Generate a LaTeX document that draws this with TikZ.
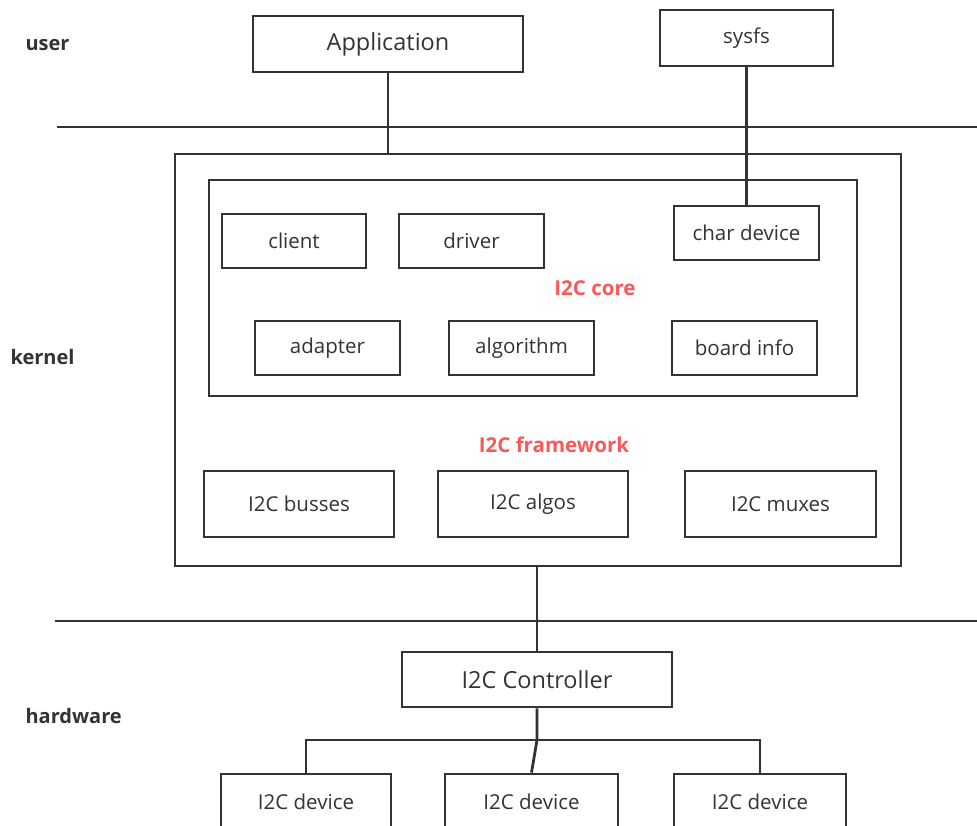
\documentclass[tikz,border=0pt]{standalone}
\usepackage{fontspec}
\setmainfont{Open Sans}
\begin{document}
\begin{tikzpicture}[x=1pt,y=-1pt,
  box/.style={draw=linec, line width=2.8pt, fill=white, inner sep=0pt, font=\fontsize{20.5}{23}\selectfont, text=textc},
  layer/.style={anchor=west, font=\bfseries\fontsize{20}{23}\selectfont, text=textc},
  redlbl/.style={font=\bfseries\fontsize{20.5}{23}\selectfont, text=redc},
  wire/.style={draw=linec, line width=2.8pt}]
\definecolor{linec}{HTML}{333333}
\definecolor{textc}{HTML}{333333}
\definecolor{redc}{HTML}{F85A5A}
\useasboundingbox[fill=white] (0,0) rectangle (977,825);
\begin{scope}
\clip (0,0) rectangle (977,825);
% layer separators
\coordinate (l1a) at (57,127);
\coordinate (l1b) at (977,127);
\coordinate (l2a) at (55,621);
\coordinate (l2b) at (977,621);
\draw[wire] (l1a) -- (l1b);
\draw[wire] (l2a) -- (l2b);
% layer labels
\node[layer] (user) at (22,45) {user};
\node[layer] (kernel) at (7,357) {kernel};
\node[layer] (hw) at (22,716) {hardware};
% user space
\node[box, minimum width=270pt, minimum height=56pt, font=\fontsize{23.5}{26}\selectfont] (app) at (388,44) {Application};
\node[box, minimum width=173pt, minimum height=56pt] (sysfs) at (746.5,38) {sysfs};
% kernel
\node[box, minimum width=726pt, minimum height=412pt] (fw) at (538,360) {};
\node[box, minimum width=648pt, minimum height=216pt] (core) at (533,288) {};
\node[box, minimum width=144pt, minimum height=54pt] (client) at (294,241) {client};
\node[box, minimum width=145pt, minimum height=54pt] (driver) at (471.5,241) {driver};
\node[box, minimum width=145pt, minimum height=54pt] (chardev) at (746.5,233) {char device};
\node[redlbl] (corelbl) at (595,288) {I2C core};
\node[box, minimum width=145pt, minimum height=54pt] (adapter) at (327.5,348) {adapter};
\node[box, minimum width=145pt, minimum height=54pt] (algo) at (521.5,348) {algorithm};
\node[box, minimum width=145pt, minimum height=54pt] (board) at (744.5,348) {board info};
\node[redlbl] (fwlbl) at (554,445) {I2C framework};
\node[box, minimum width=190pt, minimum height=66pt] (busses) at (299,504) {I2C busses};
\node[box, minimum width=190pt, minimum height=66pt] (algos) at (533,504) {I2C algos};
\node[box, minimum width=191pt, minimum height=66pt] (muxes) at (780.5,504) {I2C muxes};
% hardware
\node[box, minimum width=270pt, minimum height=55pt, font=\fontsize{23.5}{26}\selectfont] (ctrl) at (537,679.5) {I2C Controller};
\node[box, minimum width=170pt, minimum height=56pt] (dev1) at (306,802) {I2C device};
\node[box, minimum width=173pt, minimum height=56pt] (dev2) at (531.5,802) {I2C device};
\node[box, minimum width=172pt, minimum height=56pt] (dev3) at (760,802) {I2C device};
% connectors
\draw[wire] (app.south) -- (app.south |- fw.north);
\draw[wire] (sysfs.south) -- (chardev.north);
\draw[wire] (ctrl.north) -- (ctrl.north |- fw.south);
\coordinate (bus) at (537,740);
\draw[wire] (ctrl.south) -- (bus) -- (dev2.north);
\draw[wire] (dev1.north) -- (dev1.north |- bus) -- (dev3.north |- bus) -- (dev3.north);
\end{scope}
\end{tikzpicture}
\end{document}
